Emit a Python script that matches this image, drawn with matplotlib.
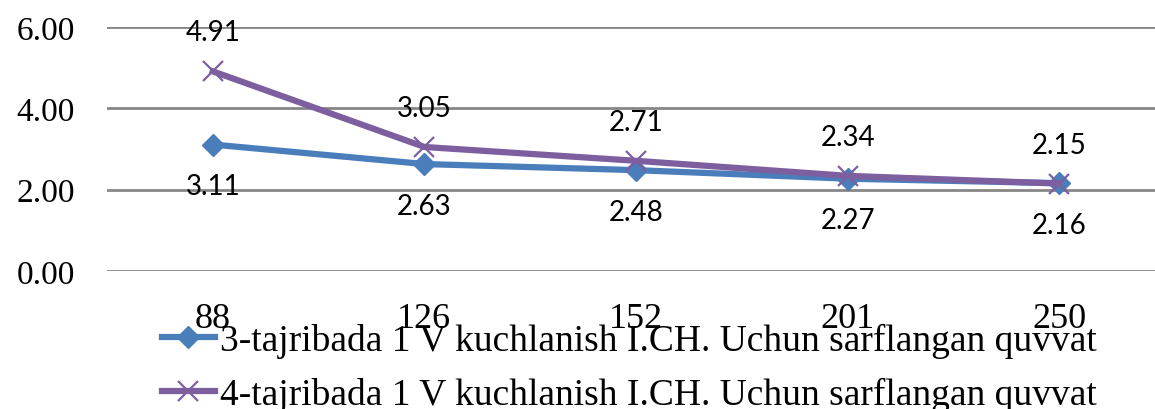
import matplotlib
matplotlib.use('Agg')
import matplotlib.pyplot as plt
import numpy as np

categories = ['88', '126', '152', '201', '250']
series3 = [3.11, 2.63, 2.48, 2.27, 2.16]
series4 = [4.91, 3.05, 2.71, 2.34, 2.15]
label3 = '3-tajribada 1 V kuchlanish I.CH. Uchun sarflangan quvvat'
label4 = '4-tajribada 1 V kuchlanish I.CH. Uchun sarflangan quvvat'
yticks = [0, 2, 4, 6]

blue = '#4a7ebb'
purple = '#7d5fa0'

W, H = 1155, 410
fig = plt.figure(figsize=(W / 100, H / 100), dpi=100)
ax = fig.add_axes([107 / W, 1 - 272 / H, (1165 - 107) / W, (272 - 28) / H])

x = np.arange(len(categories))
l3, = ax.plot(x, series3, color=blue, lw=4.5, marker='D', ms=11,
              mfc=blue, mec=blue, label=label3, zorder=3)
l4, = ax.plot(x, series4, color=purple, lw=4.5, marker='x', ms=14,
              mew=1.6, mec=purple, label=label4, zorder=4)

lab_font = dict(family=['Lato', 'DejaVu Sans'], size=20)
for xi, v in zip(x, series3):
    ax.annotate(f'{v:.2f}', (xi, v), xytext=(0, -30), textcoords='offset points',
                ha='center', va='center', **lab_font)
for xi, v in zip(x, series4):
    ax.annotate(f'{v:.2f}', (xi, v), xytext=(0, 28), textcoords='offset points',
                ha='center', va='center', **lab_font)

ax.set_xlim(-0.5, len(categories) - 0.5)
ax.set_ylim(0, 6)
ax.set_yticks(yticks)
ax.set_yticklabels([f'{t:.2f}' for t in yticks], fontfamily='Liberation Serif', fontsize=24)
ax.set_xticks(x)
ax.set_xticklabels(categories, fontfamily='Liberation Serif', fontsize=26)
ax.tick_params(length=0)
ax.tick_params(axis='y', pad=23)
ax.tick_params(axis='x', pad=22)
for s in ax.spines.values():
    s.set_visible(False)
ax.grid(axis='y', color='#868686', lw=2)
ax.set_axisbelow(True)

fig.legend(handles=[l3, l4], loc='upper left', bbox_to_anchor=(162 / W, 1 - 324 / H),
           frameon=False, prop={'family': 'Liberation Serif', 'size': 27},
           handlelength=1.4, handletextpad=0.15, labelspacing=0.5,
           borderpad=0, borderaxespad=0)

fig.savefig('out.png', dpi=100)
